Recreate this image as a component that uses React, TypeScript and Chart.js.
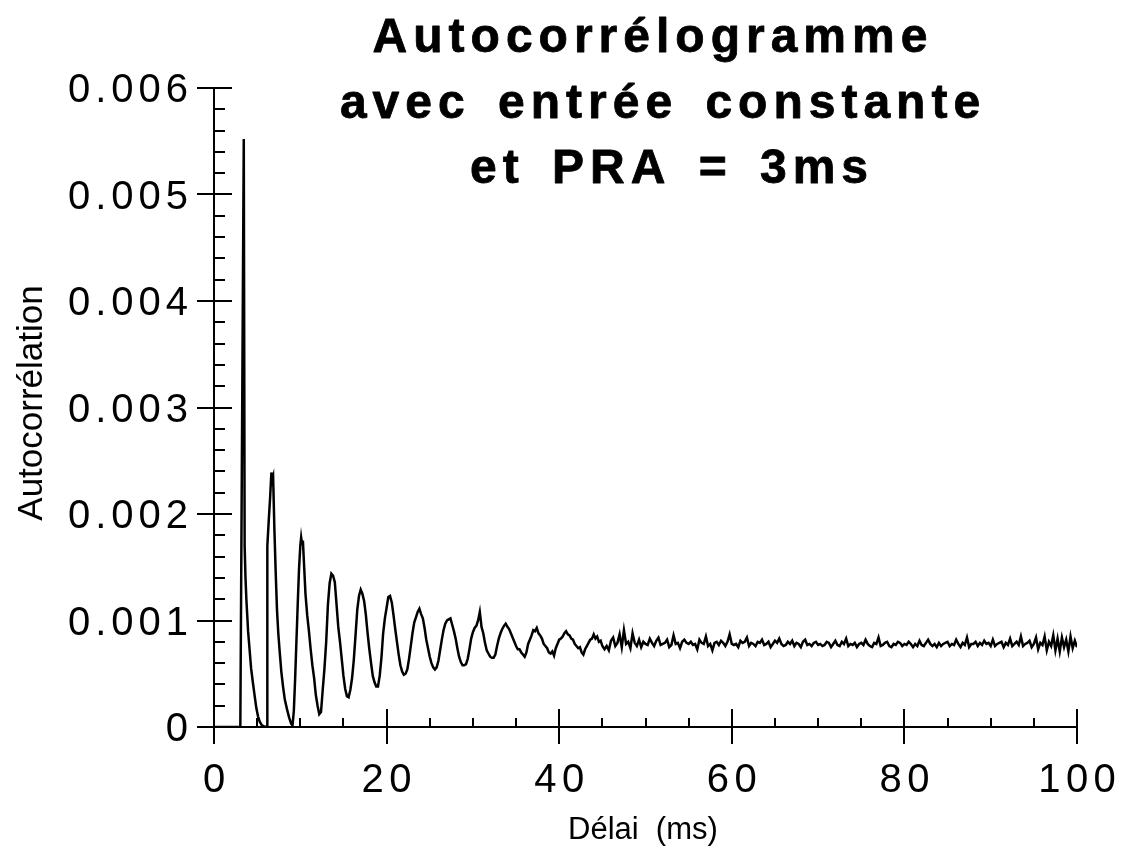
import React, { useEffect, useRef } from "react";
import { Chart, registerables } from "chart.js";

Chart.register(...registerables);

// ---- Data (autocorrelation values are listed in units of 1e-4) ----
const VALUE_UNIT = 1e-4;

// Irregularly sampled first part (refractory gap, first spike, second peak)
const spikeDelays = [
  0, 3.05, 3.45, 3.55, 3.65, 3.75, 3.85, 3.95, 4.1, 4.3,
  4.5, 4.7, 4.9, 5.1, 5.3, 5.55, 5.8, 6.15, 6.18, 6.35,
  6.5, 6.65, 6.75, 6.85, 7.0, 7.15, 7.3, 7.45, 7.6, 7.8,
  8.0, 8.2, 8.45, 8.7, 8.95, 9.1, 9.25, 9.4, 9.55, 9.7,
  9.85, 10.0, 10.1, 10.2, 10.3, 10.45, 10.6, 10.8,
];
const spikeValues = [
  0, 0, 55.2, 17, 14, 12, 10.5, 9, 7.5, 5.5,
  4.2, 3.0, 1.8, 1.0, 0.5, 0.15, 0.05, 0, 17, 19.5,
  21.5, 23.9, 23.2, 23.5, 18.5, 14.5, 11.0, 8.8, 7.2, 5.2,
  3.8, 2.6, 1.7, 0.9, 0.3, 0.15, 1.5, 4.5, 8.0, 11.5,
  14.8, 17.0, 17.8, 17.2, 17.5, 15.0, 12.5, 10.5,
];

// Damped oscillation, 11.0 ms to 45.0 ms every 0.2 ms
const waveStartMs = 11.0;
const waveStepMs = 0.2;
const waveValues = [
  9.0, 7.3, 5.8, 4.6, 3.0, 2.0, 1.2, 1.4, 3.5, 5.5,
  8.0, 11.5, 13.5, 14.4, 14.2, 13.6, 11.5, 9.4, 8.0, 6.4,
  4.8, 3.6, 2.9, 2.8, 3.5, 4.6, 6.3, 8.6, 11.0, 12.3,
  12.9, 12.5, 11.8, 10.5, 8.8, 7.3, 6.0, 4.8, 4.2, 3.8,
  3.8, 4.8, 6.5, 8.8, 10.2, 11.2, 12.2, 12.3, 11.7, 10.5,
  9.2, 8.0, 6.8, 5.8, 5.2, 4.9, 5.0, 5.4, 6.4, 7.6,
  8.8, 9.8, 10.3, 10.8, 11.1, 10.6, 10.2, 9.3, 8.2, 7.4,
  6.6, 6.0, 5.6, 5.4, 5.6, 6.2, 7.2, 8.2, 9.1, 9.7,
  10.0, 10.1, 10.2, 9.6, 9.0, 8.3, 7.4, 6.6, 6.1, 5.8,
  5.8, 5.9, 6.4, 7.3, 8.3, 8.9, 9.3, 9.5, 10.0, 10.8,
  9.4, 8.8, 7.9, 7.2, 6.9, 6.6, 6.5, 6.5, 6.8, 7.6,
  8.3, 8.8, 9.2, 9.5, 9.7, 9.4, 9.2, 8.8, 8.4, 8.0,
  7.6, 7.3, 7.3, 7.0, 6.8, 6.6, 7.0, 7.8, 8.2, 8.6,
  9.1, 9.0, 9.3, 8.8, 8.6, 8.3, 7.8, 7.6, 7.4, 7.0,
  6.9, 7.1, 6.7, 7.4, 7.8, 8.2, 8.3, 8.5, 8.8, 9.0,
  8.7, 8.6, 8.3, 8.2, 7.8, 7.6, 7.4, 7.5, 7.0, 6.8,
  7.3, 7.6, 7.9, 8.2, 8.3, 8.7, 8.3, 8.5, 8.0, 8.1,
  7.6,
];

// Noisy plateau, 45.25 ms to 100 ms every 0.25 ms
const tailStartMs = 45.25;
const tailStepMs = 0.25;
const tailValues = [
  7.3, 7.6, 7.2, 8.1, 8.4, 7.6, 7.9, 8.7, 7.5, 9.1, 7.8, 8.0, 7.4, 8.8, 7.9, 7.6, 8.2, 7.5, 8.0, 7.8,
  7.7, 8.3, 7.9, 7.6, 8.1, 8.4, 7.7, 7.8, 7.9, 8.2, 7.5, 7.7, 8.6, 7.8, 7.9, 7.4, 8.0, 8.2, 7.9, 7.8,
  8.0, 7.7, 7.8, 7.3, 8.2, 7.9, 7.8, 8.5, 7.6, 7.8, 7.2, 7.9, 8.0, 7.7, 8.1, 7.9, 7.6, 8.0, 8.7, 7.8,
  7.7, 7.8, 7.5, 8.1, 7.9, 8.0, 8.4, 7.6, 7.9, 7.8, 7.6, 8.0, 7.9, 8.2, 7.7, 7.8, 8.0, 7.5, 7.8, 8.1,
  7.9, 8.3, 7.8, 7.6, 7.7, 8.0, 7.8, 8.1, 7.6, 7.9, 7.8, 7.5, 8.0, 8.2, 7.7, 7.8, 7.6, 7.9, 8.0, 7.7,
  7.8, 7.6, 7.7, 8.0, 7.9, 7.5, 7.8, 8.1, 7.7, 7.6, 8.0, 7.8, 8.3, 7.6, 7.8, 7.7, 7.9, 7.5, 7.8, 7.9,
  7.7, 8.2, 7.8, 7.6, 7.5, 7.9, 7.8, 8.4, 7.6, 7.7, 7.9, 8.0, 7.6, 7.5, 7.8, 7.7, 8.0, 7.9, 7.6, 7.8,
  7.7, 8.0, 7.8, 7.5, 7.8, 7.6, 8.1, 7.7, 7.6, 7.9, 8.2, 7.8, 7.6, 7.8, 7.5, 7.9, 7.6, 7.8, 7.9, 8.0,
  7.6, 7.8, 7.7, 8.2, 7.8, 7.5, 7.9, 7.7, 8.4, 7.5, 7.8, 7.8, 8.0, 7.6, 7.9, 7.7, 8.1, 7.8, 7.9, 7.6,
  8.2, 7.6, 7.8, 7.9, 8.0, 7.5, 7.9, 7.7, 8.3, 7.6, 7.8, 8.0, 7.7, 8.5, 7.6, 7.8, 7.9, 8.1, 7.5, 7.8,
  8.4, 7.3, 7.9, 7.7, 8.5, 7.2, 8.0, 7.6, 8.6, 7.2, 8.3, 7.1, 8.4, 7.5, 8.2, 7.1, 8.5, 7.4, 8.1, 7.5,
];

// ---- Axes / text ----
const xMin = 0;
const xMax = 100;
const yMin = 0;
const yMax = 0.006;
const xMajorTicks = [0, 20, 40, 60, 80, 100];
const xTickLabels = ["0", "20", "40", "60", "80", "100"];
const xMinorStep = 5;
const yMajorTicks = [0, 0.001, 0.002, 0.003, 0.004, 0.005, 0.006];
const yTickLabels = ["0", "0.001", "0.002", "0.003", "0.004", "0.005", "0.006"];
const yMinorStep = 0.0002;
const titleLines = ["Autocorrélogramme", "avec entrée constante", "et PRA = 3ms"];
const xAxisTitle = "Délai  (ms)";
const yAxisTitle = "Autocorrélation";

const FONT = "'Liberation Sans', Arial, Helvetica, sans-serif";

function buildPoints() {
  const pts: { x: number; y: number }[] = [];
  spikeDelays.forEach((d, i) => pts.push({ x: d, y: spikeValues[i] * VALUE_UNIT }));
  waveValues.forEach((v, i) =>
    pts.push({ x: +(waveStartMs + i * waveStepMs).toFixed(3), y: v * VALUE_UNIT })
  );
  tailValues.forEach((v, i) =>
    pts.push({ x: +(tailStartMs + i * tailStepMs).toFixed(3), y: v * VALUE_UNIT })
  );
  return pts;
}

function drawSpaced(
  ctx: CanvasRenderingContext2D,
  text: string,
  x: number,
  y: number,
  align: "left" | "center" | "right",
  spacing: number,
  wordSpacing = 0,
  strokeW = 0
) {
  (ctx as any).letterSpacing = spacing + "px";
  (ctx as any).wordSpacing = wordSpacing + "px";
  ctx.textAlign = "left";
  const w = ctx.measureText(text).width - spacing;
  let left = x;
  if (align === "center") left = x - w / 2;
  else if (align === "right") left = x - w;
  ctx.fillText(text, left, y);
  if (strokeW > 0) {
    ctx.lineWidth = strokeW;
    ctx.lineJoin = "round";
    ctx.strokeText(text, left, y);
  }
  (ctx as any).letterSpacing = "0px";
  (ctx as any).wordSpacing = "0px";
}

const decorPlugin = {
  id: "scanDecor",
  afterDraw(chart: any) {
    const ctx: CanvasRenderingContext2D = chart.ctx;
    const xs = chart.scales.x;
    const ys = chart.scales.y;
    const ax = xs.getPixelForValue(xMin);
    const axEnd = xs.getPixelForValue(xMax);
    const by = ys.getPixelForValue(yMin);
    const topY = ys.getPixelForValue(yMax);

    ctx.save();
    ctx.strokeStyle = "#000";
    ctx.fillStyle = "#000";
    ctx.lineWidth = 2;
    ctx.lineCap = "butt";

    // axis lines
    ctx.beginPath();
    ctx.moveTo(ax, topY);
    ctx.lineTo(ax, by);
    ctx.lineTo(axEnd, by);
    ctx.stroke();

    // y ticks
    const nY = Math.round((yMax - yMin) / yMinorStep);
    for (let i = 0; i <= nY; i++) {
      const v = yMin + i * yMinorStep;
      const py = Math.round(ys.getPixelForValue(v));
      const major = yMajorTicks.some((t) => Math.abs(t - v) < 1e-9);
      ctx.beginPath();
      if (major) {
        ctx.moveTo(ax - 17, py);
        ctx.lineTo(ax + 18, py);
      } else {
        ctx.moveTo(ax, py);
        ctx.lineTo(ax + 11, py);
      }
      ctx.stroke();
    }

    // x ticks
    const nX = Math.round((xMax - xMin) / xMinorStep);
    for (let i = 0; i <= nX; i++) {
      const v = xMin + i * xMinorStep;
      const px = Math.round(xs.getPixelForValue(v));
      const major = xMajorTicks.includes(v);
      ctx.beginPath();
      if (major) {
        ctx.moveTo(px, by - 18);
        ctx.lineTo(px, by + 17);
      } else {
        ctx.moveTo(px, by - 9);
        ctx.lineTo(px, by);
      }
      ctx.stroke();
    }

    // y tick labels
    ctx.font = `40px ${FONT}`;
    ctx.textBaseline = "alphabetic";
    yMajorTicks.forEach((t, i) => {
      const py = ys.getPixelForValue(t);
      drawSpaced(ctx, yTickLabels[i], ax - 26, py + 14, "right", 5);
    });

    // x tick labels
    xMajorTicks.forEach((t, i) => {
      const px = xs.getPixelForValue(t);
      drawSpaced(ctx, xTickLabels[i], px, by + 65, "center", 5.5);
    });

    // axis titles
    ctx.font = `31px ${FONT}`;
    drawSpaced(ctx, xAxisTitle, 568, 839, "left", 0);
    ctx.save();
    ctx.font = `35px ${FONT}`;
    ctx.translate(42, 403);
    ctx.rotate(-Math.PI / 2);
    drawSpaced(ctx, yAxisTitle, 0, 0, "center", 0);
    ctx.restore();

    // title (drawn over the plot area, as in the original)
    ctx.font = `bold 48px ${FONT}`;
    const centers = [650, 660, 669];
    const baselines = [52, 118, 183];
    titleLines.forEach((line, i) => {
      drawSpaced(ctx, line, centers[i], baselines[i], "center", 6, 8, 0.8);
    });

    ctx.restore();
  },
};

export default function App() {
  const canvasRef = useRef<HTMLCanvasElement | null>(null);

  useEffect(() => {
    if (!canvasRef.current) return;
    const chart = new Chart(canvasRef.current, {
      type: "line",
      data: {
        datasets: [
          {
            label: "Autocorrélation",
            data: buildPoints(),
            borderColor: "#000",
            borderWidth: 2.5,
            pointRadius: 0,
            tension: 0,
            fill: false,
          },
        ],
      },
      options: {
        animation: false,
        responsive: false,
        maintainAspectRatio: false,
        devicePixelRatio: 1,
        layout: { padding: { left: 214, right: 53, top: 88, bottom: 122 } },
        scales: {
          x: { type: "linear", min: xMin, max: xMax, display: false },
          y: { type: "linear", min: yMin, max: yMax, display: false },
        },
        plugins: {
          legend: { display: false },
          tooltip: { enabled: false },
          title: { display: false },
        },
      },
      plugins: [decorPlugin],
    });
    return () => chart.destroy();
  }, []);

  return (
    <div style={{ position: "absolute", left: 0, top: 0, width: 1130, height: 849, background: "#fff" }}>
      <canvas ref={canvasRef} width={1130} height={849} style={{ display: "block" }} />
    </div>
  );
}
